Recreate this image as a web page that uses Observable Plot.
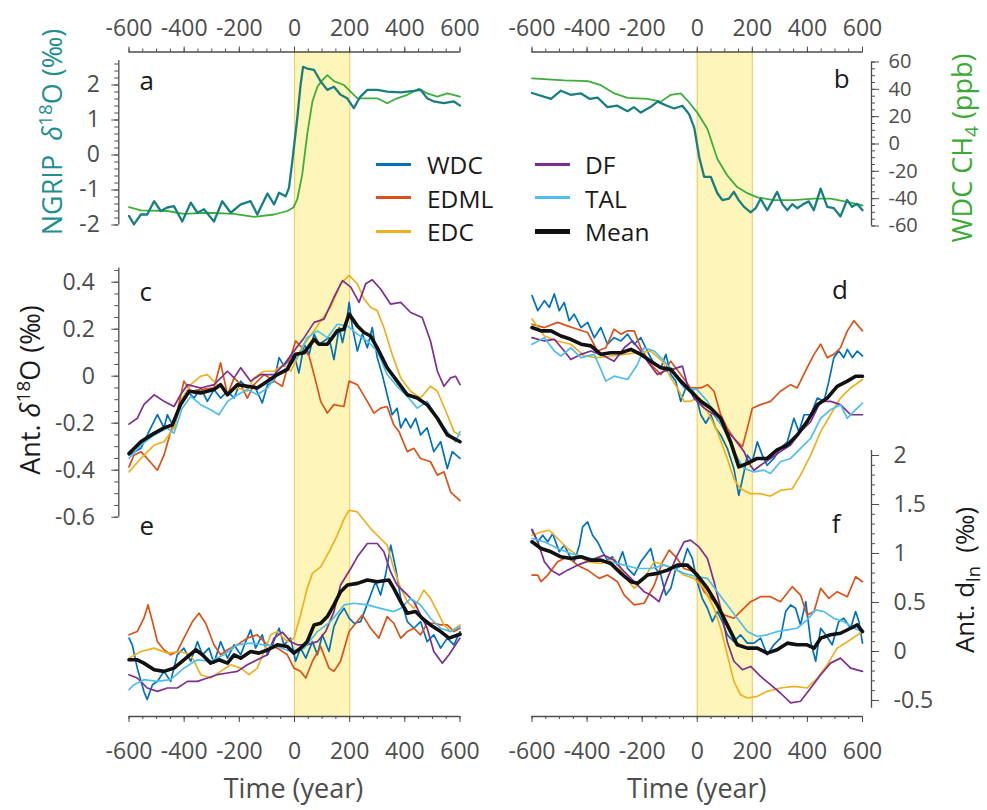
<!DOCTYPE html>
<html><head><meta charset="utf-8">
<script src="https://cdn.jsdelivr.net/npm/d3@7"></script>
<script src="https://cdn.jsdelivr.net/npm/@observablehq/plot@0.6"></script>
<style>
body{margin:0;background:#fff;}
#fig{position:relative;width:987px;height:810px;font-family:"Open Sans",sans-serif;overflow:hidden;background:#fff;}
#fig svg{position:absolute;left:0;top:0;overflow:visible;}
.lbl{position:absolute;white-space:nowrap;line-height:1;transform:translate(-50%,-50%);color:#1a1a1a;}
.vt{position:absolute;white-space:nowrap;line-height:1;transform:translate(-50%,-50%) rotate(-90deg);font-size:27px;}
.sw{position:absolute;}
.lt{position:absolute;font-size:24.5px;line-height:1;transform:translateY(-50%);color:#1a1a1a;}
sup,sub{font-size:70%;line-height:0;}
</style></head><body><div id="fig"></div>
<script>
// ---------- data ----------
const years = {majorTicks: [-600,-400,-200,0,200,400,600], minorStep: 50};
const band = [{start: 0, end: 200}];
const seriesNames = ["WDC","EDML","EDC","DF","TAL","Mean"];
const seriesColors = ["#0072BD","#D95319","#EDB120","#7E2F8E","#4DBEEE","#111111"];

// panel a (NGRIP d18O and WDC CH4 as drawn)
const aNGRIP = [[-600,-1.74],[-582,-1.98],[-557,-1.7],[-534,-1.7],[-509,-1.32],[-485,-1.6],[-461,-1.5],[-437,-1.46],[-407,-1.9],[-376,-1.36],[-352,-1.65],[-328,-1.55],[-292,-1.9],[-262,-1.32],[-231,-1.65],[-195,-1.41],[-159,-1.32],[-135,-1.7],[-98,-1.1],[-74,-1.41],[-56,-1.08],[-32,-1.18],[-20,-0.94],[-8,-0.18],[10,1.05],[22,2.0],[31,2.52],[46,2.47],[71,2.43],[95,2.1],[119,1.86],[143,1.95],[167,1.72],[191,1.62],[215,1.34],[239,1.67],[264,1.86],[300,1.86],[336,1.81],[385,1.79],[433,1.83],[457,1.86],[481,1.62],[505,1.53],[541,1.48],[578,1.53],[600,1.41]];
const aCH4 = [[-600,-1.49],[-557,-1.58],[-461,-1.6],[-401,-1.68],[-316,-1.65],[-219,-1.68],[-147,-1.77],[-74,-1.7],[-26,-1.6],[-4,-1.5],[10,-1.27],[28,-0.56],[46,0.58],[65,1.53],[83,1.95],[101,2.14],[119,2.28],[143,2.11],[179,2.0],[203,1.81],[228,1.62],[264,1.62],[300,1.62],[336,1.48],[372,1.62],[409,1.72],[451,1.89],[481,1.76],[518,1.67],[554,1.76],[600,1.67]];
// panel b
const bNGRIP = [[-600,37.3],[-531,33],[-495,39],[-460,36],[-422,37],[-390,33],[-362,34],[-326,27],[-290,28],[-253,24],[-230,27],[-205,23],[-170,27],[-144,31],[-110,28],[-84,26],[-54,28],[-30,22],[-11,12],[7,-9.5],[25,-24],[49,-24],[73,-36],[91,-41],[115,-40],[133,-35],[150,-41],[170,-46],[194,-50],[212,-47],[230,-40],[254,-48.5],[272,-42],[290,-35],[309,-44],[327,-48.5],[345,-44],[363,-47],[385,-44],[405,-42],[423,-48.5],[448,-32.7],[472,-46],[496,-47],[520,-53],[544,-41],[562,-46],[580,-43.7],[600,-48.5]];
const bCH4 = [[-600,48],[-483,46.6],[-398,46],[-350,43],[-301,37],[-253,33.7],[-180,33],[-132,31],[-96,36],[-60,37],[-36,32],[0,23],[37,11],[73,-11],[109,-23],[145,-31.5],[182,-36],[218,-39],[278,-41],[351,-41],[423,-40],[484,-40],[544,-42.4],[600,-45]];

// panel c (Ant. d18O)
const cWDC = [[-600,-0.336],[-557,-0.307],[-521,-0.22],[-497,-0.164],[-473,-0.22],[-461,-0.164],[-437,-0.22],[-413,-0.107],[-388,-0.064],[-364,-0.093],[-340,-0.05],[-316,-0.107],[-292,-0.057],[-268,-0.093],[-243,-0.064],[-219,-0.093],[-195,-0.021],[-171,-0.05],[-147,-0.036],[-117,-0.114],[-98,-0.036],[-74,-0.021],[-56,0.079],[-38,0.043],[-20,0.071],[-2,0.093],[16,0.014],[35,0.136],[53,0.093],[71,0.179],[89,0.136],[107,0.15],[125,0.164],[143,0.071],[162,0.207],[174,0.143],[186,0.207],[198,0.314],[210,0.207],[228,0.107],[246,0.179],[264,0.121],[282,0.207],[300,0.079],[318,0.007],[336,-0.079],[354,-0.164],[372,-0.136],[385,-0.22],[403,-0.179],[421,-0.22],[439,-0.179],[457,-0.25],[481,-0.22],[505,-0.321],[530,-0.279],[554,-0.393],[572,-0.321],[600,-0.35]];
const cEDML = [[-600,-0.386],[-582,-0.336],[-557,-0.321],[-534,-0.35],[-497,-0.4],[-473,-0.336],[-449,-0.236],[-425,-0.15],[-401,-0.021],[-376,-0.064],[-340,-0.057],[-292,-0.05],[-268,0.057],[-243,-0.079],[-219,-0.007],[-195,-0.036],[-171,-0.093],[-147,-0.036],[-110,0.007],[-74,-0.021],[-44,-0.043],[-26,0.036],[4,0.15],[28,0.121],[53,0.086],[77,-0.021],[95,-0.107],[119,-0.157],[143,-0.121],[179,-0.129],[198,-0.021],[228,-0.036],[264,-0.107],[288,-0.157],[312,-0.136],[336,-0.129],[360,-0.207],[379,-0.236],[409,-0.321],[433,-0.307],[457,-0.35],[493,-0.364],[518,-0.421],[542,-0.407],[566,-0.493],[600,-0.529]];
const cEDC = [[-600,-0.407],[-557,-0.35],[-509,-0.293],[-473,-0.279],[-437,-0.22],[-407,-0.093],[-376,-0.036],[-340,0],[-316,0.007],[-280,-0.036],[-243,-0.064],[-207,-0.05],[-171,-0.064],[-147,-0.007],[-110,0.021],[-74,0.021],[-38,0.05],[-14,0.021],[10,0.079],[35,0.136],[71,0.193],[95,0.236],[131,0.293],[167,0.393],[198,0.429],[228,0.393],[252,0.329],[276,0.293],[300,0.279],[324,0.207],[354,0.093],[385,-0.007],[421,-0.064],[457,-0.093],[493,-0.043],[518,-0.064],[554,-0.164],[578,-0.236],[600,-0.25]];
const cDF = [[-600,-0.204],[-570,-0.179],[-546,-0.121],[-509,-0.079],[-473,-0.107],[-437,-0.129],[-413,-0.079],[-388,-0.036],[-340,-0.05],[-292,-0.036],[-243,0.021],[-219,-0.007],[-195,0.036],[-159,-0.021],[-123,0.007],[-74,0.007],[-38,0.05],[-2,0.107],[35,0.164],[71,0.229],[107,0.243],[143,0.336],[174,0.407],[204,0.379],[234,0.314],[258,0.393],[282,0.41],[312,0.371],[348,0.307],[385,0.314],[421,0.271],[463,0.25],[493,0.15],[518,0.021],[542,-0.043],[566,-0.007],[584,0],[600,-0.036]];
const cTAL = [[-600,-0.35],[-557,-0.293],[-509,-0.25],[-461,-0.22],[-437,-0.243],[-407,-0.136],[-376,-0.086],[-340,-0.121],[-304,-0.143],[-274,-0.164],[-243,-0.107],[-207,-0.079],[-171,-0.057],[-135,-0.079],[-98,-0.05],[-62,0.007],[-26,0.036],[10,0.079],[46,0.164],[83,0.193],[119,0.164],[155,0.221],[192,0.214],[228,0.179],[264,0.15],[300,0.107],[336,0.007],[372,-0.043],[409,-0.086],[445,-0.136],[481,-0.107],[518,-0.179],[554,-0.236],[584,-0.279],[600,-0.236]];
const cMean = [[-600,-0.329],[-557,-0.279],[-509,-0.243],[-473,-0.22],[-443,-0.207],[-413,-0.121],[-382,-0.064],[-340,-0.071],[-292,-0.057],[-268,-0.036],[-243,-0.079],[-207,-0.036],[-171,-0.043],[-135,-0.05],[-98,-0.021],[-62,0.007],[-26,0.029],[4,0.093],[35,0.1],[71,0.157],[89,0.136],[119,0.136],[155,0.193],[179,0.2],[198,0.264],[228,0.214],[252,0.186],[276,0.171],[300,0.121],[336,0.036],[372,-0.021],[409,-0.079],[445,-0.093],[481,-0.121],[518,-0.179],[554,-0.25],[600,-0.279]];

// panel d (Ant. d18O)
const dWDC = [[-600,0.343],[-579,0.279],[-555,0.321],[-537,0.293],[-519,0.35],[-501,0.279],[-483,0.314],[-465,0.236],[-447,0.264],[-422,0.207],[-398,0.229],[-374,0.164],[-350,0.207],[-326,0.136],[-302,0.164],[-277,0.15],[-253,0.179],[-229,0.136],[-205,0.164],[-181,0.107],[-156,0.05],[-132,0.036],[-114,0.093],[-96,0.007],[-78,-0.021],[-60,-0.107],[-42,-0.05],[-24,-0.05],[-6,-0.079],[13,-0.164],[31,-0.2],[49,-0.164],[67,-0.221],[85,-0.25],[109,-0.307],[133,-0.393],[151,-0.507],[170,-0.407],[182,-0.336],[200,-0.364],[218,-0.279],[236,-0.336],[254,-0.379],[278,-0.35],[302,-0.307],[327,-0.279],[351,-0.179],[369,-0.236],[388,-0.164],[412,-0.164],[436,-0.093],[460,-0.107],[478,-0.021],[496,0.079],[514,0.107],[532,0.079],[545,0.114],[563,0.079],[581,0.107],[600,0.086]];
const dEDML = [[-600,0.221],[-555,0.207],[-507,0.229],[-471,0.214],[-435,0.2],[-398,0.186],[-362,0.107],[-332,0.121],[-302,0.2],[-277,0.179],[-253,0.193],[-229,0.193],[-205,0.121],[-169,0.05],[-132,0.007],[-96,0.064],[-60,0.007],[-24,-0.05],[13,-0.05],[37,-0.036],[61,-0.064],[85,-0.164],[109,-0.221],[133,-0.264],[164,-0.3],[182,-0.221],[200,-0.136],[230,-0.121],[266,-0.107],[302,-0.064],[339,-0.036],[363,-0.05],[399,0.036],[424,0.093],[448,0.136],[472,0.079],[496,0.093],[520,0.121],[545,0.193],[569,0.236],[600,0.193]];
const dEDC = [[-600,0.243],[-555,0.171],[-507,0.15],[-459,0.136],[-410,0.086],[-362,0.079],[-314,0.086],[-265,0.093],[-217,0.1],[-169,0.107],[-127,0.064],[-96,-0.007],[-72,-0.05],[-48,-0.107],[-24,-0.107],[0,-0.093],[37,-0.15],[73,-0.236],[109,-0.35],[133,-0.436],[157,-0.479],[194,-0.5],[230,-0.5],[266,-0.51],[302,-0.486],[345,-0.479],[375,-0.421],[412,-0.336],[448,-0.236],[484,-0.164],[520,-0.093],[557,-0.05],[600,-0.014]];
const dDF = [[-600,0.164],[-555,0.15],[-519,0.157],[-483,0.107],[-459,0.071],[-422,0.093],[-386,0.107],[-338,0.086],[-302,0.064],[-265,0.121],[-235,0.15],[-205,0.107],[-181,0.064],[-145,0.007],[-120,0.021],[-90,0.029],[-54,0.043],[-36,-0.036],[-12,-0.093],[25,-0.136],[61,-0.164],[97,-0.221],[133,-0.264],[170,-0.321],[188,-0.371],[206,-0.4],[230,-0.379],[266,-0.35],[302,-0.321],[339,-0.293],[375,-0.236],[412,-0.193],[448,-0.107],[484,-0.107],[520,-0.121],[557,-0.164],[600,-0.164]];
const dTAL = [[-600,0.136],[-555,0.164],[-519,0.107],[-495,0.086],[-459,0.121],[-422,0.079],[-374,0.093],[-350,0.029],[-332,-0.021],[-302,0],[-253,-0.014],[-217,0.05],[-193,0.121],[-156,0.107],[-120,0.064],[-84,0.007],[-48,-0.05],[0,-0.057],[37,-0.107],[73,-0.179],[109,-0.25],[133,-0.321],[170,-0.393],[206,-0.407],[242,-0.4],[266,-0.414],[302,-0.364],[339,-0.35],[375,-0.307],[412,-0.264],[448,-0.179],[484,-0.143],[520,-0.121],[545,-0.179],[569,-0.15],[600,-0.114]];
const dMean = [[-600,0.207],[-567,0.193],[-531,0.193],[-495,0.171],[-459,0.157],[-422,0.136],[-386,0.129],[-350,0.093],[-314,0.1],[-277,0.1],[-241,0.114],[-205,0.093],[-169,0.064],[-132,0.036],[-96,0.029],[-60,-0.021],[-24,-0.064],[13,-0.107],[49,-0.136],[85,-0.179],[121,-0.279],[151,-0.386],[182,-0.371],[218,-0.35],[254,-0.35],[290,-0.314],[327,-0.293],[363,-0.25],[399,-0.193],[436,-0.121],[472,-0.093],[508,-0.043],[545,-0.021],[575,0],[600,0]];

// panel e (Ant. dln, drawn on panel f scale)
const eWDC = [[-600,0.136],[-588,0.068],[-570,-0.17],[-546,-0.407],[-534,-0.49],[-515,-0.34],[-497,-0.305],[-473,-0.203],[-449,-0.305],[-425,-0.034],[-401,0.034],[-376,-0.1],[-352,0.1],[-334,-0.034],[-310,0.034],[-292,-0.119],[-268,0.1],[-243,-0.068],[-219,0.068],[-195,-0.034],[-177,0.1],[-159,0.22],[-141,0.034],[-117,0.17],[-98,-0.034],[-80,0.068],[-56,0.237],[-38,0.068],[-14,0.136],[4,-0.1],[22,0.034],[41,-0.068],[65,0.1],[83,-0.034],[101,0.17],[125,0],[143,0.254],[162,0.373],[180,0.44],[198,0.34],[216,0.288],[240,0.305],[258,0.44],[276,0.576],[294,0.712],[312,0.576],[330,0.78],[349,1.085],[367,0.847],[385,0.542],[409,0.305],[433,0.237],[457,0.305],[481,0.1],[505,0.17],[530,0.034],[554,0.136],[578,0.068],[600,0.203]];
const eEDML = [[-600,0.17],[-570,0.203],[-546,0.34],[-531,0.475],[-515,0.305],[-497,0.1],[-473,0.017],[-449,-0.034],[-425,0],[-401,0.136],[-370,0.305],[-346,0.39],[-322,0.288],[-292,0.068],[-268,-0.034],[-243,0.017],[-207,0.068],[-171,0.136],[-135,0.17],[-98,0.068],[-62,0.034],[-26,-0.034],[-2,-0.17],[22,-0.203],[41,-0.271],[65,-0.1],[95,0.051],[125,-0.17],[143,-0.203],[167,-0.1],[198,0.203],[222,0.288],[246,0.373],[276,0.237],[306,0.136],[336,0.356],[360,0.288],[385,0.136],[409,0.203],[433,0.237],[457,0.17],[481,0.288],[505,0.288],[530,0.271],[554,0.271],[578,0.203],[600,0.237]];
const eEDC = [[-600,-0.068],[-557,0],[-509,0.034],[-461,-0.017],[-413,0],[-376,-0.034],[-340,-0.237],[-304,-0.271],[-268,-0.203],[-231,-0.136],[-195,-0.17],[-165,-0.237],[-135,-0.17],[-110,0],[-86,0.17],[-62,0.203],[-26,0.1],[-2,0.136],[22,0.373],[46,0.644],[65,0.797],[95,0.864],[125,1.017],[155,1.186],[180,1.356],[198,1.441],[228,1.424],[252,1.339],[276,1.254],[312,1.153],[336,1.085],[360,0.847],[385,0.644],[409,0.508],[433,0.44],[469,0.627],[493,0.542],[518,0.407],[542,0.271],[566,0.203],[600,0.271]];
const eDF = [[-600,-0.237],[-570,-0.271],[-534,-0.373],[-497,-0.407],[-461,-0.373],[-425,-0.373],[-388,-0.305],[-352,-0.305],[-316,-0.271],[-280,-0.237],[-243,-0.22],[-207,-0.203],[-171,-0.136],[-135,-0.085],[-98,-0.034],[-74,0.136],[-44,0.197],[-14,0.1],[10,0.068],[46,0.068],[83,0.1],[113,0.203],[143,0.407],[167,0.678],[204,0.847],[228,0.966],[264,1.102],[300,1.102],[324,1.017],[348,0.814],[372,0.678],[397,0.61],[433,0.508],[457,0.373],[481,0.237],[505,0],[536,-0.119],[560,-0.034],[600,0.136]];
const eTAL = [[-600,-0.39],[-582,-0.339],[-546,-0.288],[-497,-0.305],[-449,-0.288],[-401,-0.17],[-352,-0.085],[-304,-0.1],[-256,-0.034],[-207,0.068],[-159,0.085],[-110,0.068],[-62,0.051],[-14,0],[35,0.034],[83,0.203],[131,0.305],[180,0.475],[216,0.492],[264,0.475],[312,0.44],[360,0.407],[385,0.44],[421,0.542],[457,0.475],[493,0.339],[530,0.237],[566,0.203],[600,0.254]];
const eMean = [[-600,-0.085],[-570,-0.085],[-546,-0.119],[-509,-0.186],[-473,-0.203],[-437,-0.17],[-401,-0.085],[-358,0.017],[-334,-0.034],[-304,-0.119],[-274,-0.085],[-243,-0.119],[-219,-0.034],[-195,-0.068],[-159,0],[-129,-0.017],[-98,0.017],[-62,0.068],[-26,0.051],[-2,-0.017],[22,0.034],[46,0.1],[71,0.271],[95,0.288],[119,0.356],[143,0.475],[167,0.61],[192,0.678],[228,0.695],[264,0.729],[300,0.712],[342,0.729],[360,0.644],[385,0.508],[409,0.39],[439,0.407],[463,0.339],[493,0.271],[530,0.203],[560,0.136],[600,0.176]];

// panel f (Ant. dln)
const fWDC = [[-600,1.237],[-579,1.119],[-561,1.186],[-543,1.119],[-525,1.203],[-501,1.017],[-483,1.085],[-465,0.983],[-447,0.915],[-428,1.085],[-416,1.271],[-398,1.322],[-380,1.186],[-362,1.119],[-344,1.017],[-326,0.932],[-308,0.966],[-290,0.881],[-271,1.017],[-253,0.847],[-229,0.78],[-205,0.915],[-187,0.983],[-169,1.051],[-151,0.847],[-132,0.78],[-114,0.576],[-96,0.644],[-78,0.847],[-54,0.881],[-36,1.051],[-18,0.949],[0,0.712],[18,0.542],[37,0.441],[55,0.305],[73,0.407],[91,0.305],[109,0.17],[133,0.1],[157,0.17],[182,0.085],[206,0.085],[230,0.136],[254,-0.034],[278,0.068],[302,0.136],[321,0.407],[339,0.475],[357,0.441],[375,0.271],[394,0.508],[412,0.1],[430,-0.1],[448,0.237],[466,0.17],[490,0.068],[514,0.305],[532,0.339],[557,0.237],[575,0.407],[587,0.305],[600,0.085]];
const fEDML = [[-600,0.78],[-579,0.78],[-567,0.712],[-543,0.78],[-507,0.915],[-471,0.966],[-435,0.881],[-398,0.83],[-356,0.746],[-326,0.78],[-290,0.712],[-265,0.576],[-229,0.475],[-193,0.492],[-156,0.678],[-126,0.915],[-102,1.034],[-78,0.966],[-48,0.847],[-12,0.814],[25,0.61],[61,0.508],[97,0.373],[133,0.339],[157,0.407],[194,0.508],[230,0.559],[266,0.559],[302,0.508],[345,0.661],[375,0.576],[399,0.373],[424,0.407],[448,0.644],[478,0.542],[508,0.61],[545,0.559],[575,0.763],[600,0.712]];
const fEDC = [[-600,1.186],[-567,1.22],[-537,1.237],[-507,1.153],[-471,1.051],[-435,0.983],[-398,0.915],[-350,0.898],[-302,0.949],[-265,0.78],[-229,0.644],[-193,0.746],[-156,0.915],[-120,0.881],[-84,0.847],[-48,0.78],[-12,0.746],[25,0.644],[61,0.441],[85,0.237],[109,-0.034],[133,-0.305],[157,-0.441],[182,-0.475],[218,-0.458],[254,-0.407],[302,-0.373],[351,-0.356],[399,-0.373],[436,-0.271],[472,-0.136],[508,0.034],[545,0.1],[600,0.203]];
const fDF = [[-600,1.247],[-579,1.119],[-555,0.915],[-531,0.83],[-501,0.78],[-471,0.83],[-435,0.881],[-386,0.932],[-338,0.983],[-302,0.932],[-265,0.814],[-229,0.712],[-193,0.61],[-169,0.576],[-139,0.508],[-108,0.746],[-78,0.949],[-48,1.119],[-24,1.136],[6,1.068],[37,0.949],[61,0.712],[85,0.441],[109,0.1],[133,-0.1],[164,-0.186],[194,-0.153],[230,-0.254],[266,-0.339],[302,-0.424],[339,-0.525],[375,-0.508],[412,-0.373],[448,-0.237],[484,-0.119],[520,-0.068],[557,-0.17],[600,-0.203]];
const fTAL = [[-600,1.153],[-555,1.119],[-507,1.051],[-459,1.0],[-410,0.966],[-362,0.932],[-314,0.915],[-265,0.881],[-217,0.847],[-169,0.847],[-120,0.881],[-84,0.847],[-48,0.797],[0,0.763],[37,0.746],[73,0.61],[109,0.475],[145,0.339],[182,0.203],[218,0.153],[254,0.17],[290,0.203],[327,0.22],[363,0.237],[399,0.322],[430,0.424],[460,0.407],[496,0.339],[532,0.305],[569,0.237],[600,0.203]];
const fMean = [[-600,1.119],[-567,1.051],[-531,1.017],[-495,0.966],[-459,0.949],[-422,0.966],[-386,0.932],[-350,0.932],[-314,0.898],[-277,0.797],[-241,0.712],[-217,0.695],[-181,0.78],[-145,0.797],[-108,0.83],[-72,0.881],[-36,0.881],[0,0.78],[37,0.644],[73,0.475],[109,0.271],[145,0.068],[182,0.034],[218,0.034],[254,-0.017],[290,0.017],[327,0.085],[363,0.068],[399,0.068],[424,0.034],[448,0.136],[484,0.17],[520,0.186],[557,0.237],[581,0.271],[600,0.203]];

// axis tick values
const ticksA = {major: [-2,-1,0,1,2], minorStep: 0.2, minorFrom: -2, minorTo: 2.6};
const ticksB = {major: [-60,-40,-20,0,20,40,60], minorStep: 5, minorFrom: -60, minorTo: 60};
const ticksC = {major: [-0.6,-0.4,-0.2,0,0.2,0.4], minorStep: 0.05, minorFrom: -0.6, minorTo: 0.45};
const ticksF = {major: [-0.5,0,0.5,1,1.5,2], minorStep: 0.1, minorFrom: -0.5, minorTo: 2.0};

// ---------- layout ----------
const W = 987, H = 810;
const cols = {L: {left: 128.5, right: 459.5}, R: {left: 531.5, right: 862}};
const rows = {
  a: {domain: [-2, 2.7], top: 60, bottom: 224.5},
  b: {domain: [-60, 60], top: 61.5, bottom: 225.5},
  cd: {domain: [-0.6, 0.46], top: 267.6, bottom: 516.7},
  ef: {domain: [-0.58, 2.05], top: 450.1, bottom: 707.8}
};
const AX = "#4d4d4d";
const FONT = "'Open Sans', sans-serif";
const fig = document.getElementById("fig");
const fmt = d => String(+(+d).toFixed(2));
const rng = (a, b, s) => d3.range(Math.round((b - a) / s) + 1).map(i => +(a + i * s).toFixed(4));
const baseStyle = {background: "transparent", overflow: "visible", fontFamily: FONT, color: AX};

function add(p) { fig.appendChild(p); }

function base(col) {
  const c = cols[col];
  const minor = rng(-600, 600, years.minorStep);
  const top = 51.5, bot = 716, k = 3 / (bot - top);
  add(Plot.plot({
    width: W, height: H, marginLeft: c.left, marginRight: W - c.right,
    marginTop: top, marginBottom: H - bot,
    x: {domain: [-600, 600]}, y: {domain: [0, 1], axis: null},
    style: baseStyle,
    marks: [
      Plot.rect(band, {x1: "start", x2: "end", fill: "#fdf5b9"}),
      Plot.ruleX(band.flatMap(b => [b.start, b.end]), {stroke: "#f4cf6a", strokeWidth: 1.2}),
      Plot.ruleY([0, 1], {stroke: AX, strokeWidth: 1.3}),
      Plot.ruleX(minor, {y1: 1, y2: 1 + k, stroke: AX}),
      Plot.ruleX(minor, {y1: 0, y2: -k, stroke: AX}),
      Plot.axisX({anchor: "top", ticks: years.majorTicks, tickSize: 6, tickPadding: 10, tickFormat: fmt, fontSize: 23, color: AX}),
      Plot.axisX({anchor: "bottom", ticks: years.majorTicks, tickSize: 6, tickPadding: 20, tickFormat: fmt, fontSize: 23, color: AX})
    ]
  }));
}

function panel(col, row, series) {
  const c = cols[col], r = rows[row];
  add(Plot.plot({
    width: W, height: H, marginLeft: c.left, marginRight: W - c.right,
    marginTop: r.top, marginBottom: H - r.bottom,
    x: {domain: [-600, 600], axis: null}, y: {domain: r.domain, axis: null},
    style: baseStyle,
    marks: series.map(s => Plot.line(s.data, {x: d => d[0], y: d => d[1], stroke: s.color, strokeWidth: s.width, strokeLinejoin: "round"}))
  }));
}

function yAxis(side, xpos, row, t, pad, fs) {
  const r = rows[row];
  const minor = rng(t.minorFrom, t.minorTo, t.minorStep);
  const left = side === "left";
  add(Plot.plot({
    width: W, height: H,
    marginLeft: left ? xpos : xpos - 100, marginRight: left ? W - xpos - 100 : W - xpos,
    marginTop: r.top, marginBottom: H - r.bottom,
    x: {domain: [0, 1], axis: null}, y: {domain: r.domain},
    style: baseStyle,
    marks: [
      Plot.ruleX([left ? 0 : 1], {stroke: AX, strokeWidth: 1.3}),
      Plot.ruleY(minor, left ? {x1: -0.04, x2: 0, stroke: AX} : {x1: 1, x2: 1.04, stroke: AX}),
      Plot.axisY({anchor: side, ticks: t.major, tickSize: 7, tickPadding: pad, tickFormat: fmt, fontSize: fs, color: AX})
    ]
  }));
}

const col = Object.fromEntries(seriesNames.map((n, i) => [n, seriesColors[i]]));
const TEAL = "#177f80", GREEN = "#3cae3a";
function six(arrs) {
  return seriesNames.map((n, i) => ({data: arrs[i], color: col[n], width: n === "Mean" ? 3.6 : 1.7}));
}

base("L"); base("R");
panel("L", "a", [{data: aCH4, color: GREEN, width: 1.8}, {data: aNGRIP, color: TEAL, width: 2.3}]);
panel("R", "b", [{data: bCH4, color: GREEN, width: 1.8}, {data: bNGRIP, color: TEAL, width: 2.3}]);
panel("L", "cd", six([cWDC, cEDML, cEDC, cDF, cTAL, cMean]));
panel("R", "cd", six([dWDC, dEDML, dEDC, dDF, dTAL, dMean]));
panel("L", "ef", six([eWDC, eEDML, eEDC, eDF, eTAL, eMean]));
panel("R", "ef", six([fWDC, fEDML, fEDC, fDF, fTAL, fMean]));
yAxis("left", 118.3, "a", ticksA, 12, 23);
yAxis("right", 871, "b", ticksB, 10, 20);
yAxis("left", 118.3, "cd", ticksC, 17, 23);
yAxis("right", 871, "ef", ticksF, 15, 23);

// ---------- text overlays ----------
function label(html, x, y, size, cls = "lbl", color) {
  const d = document.createElement("div");
  d.className = cls; d.innerHTML = html;
  d.style.left = x + "px"; d.style.top = y + "px";
  if (size) d.style.fontSize = size + "px";
  if (color) d.style.color = color;
  fig.appendChild(d);
}
const letters = [["a", 146.7, 80], ["b", 841.7, 78], ["c", 145.7, 291], ["d", 840, 289], ["e", 146.7, 525], ["f", 836, 523]];
letters.forEach(([t, x, y]) => label(t, x, y, 26));
label("Time (year)", 293.5, 787, 27, "lbl", "#4d4d4d");
label("Time (year)", 696.8, 787, 27, "lbl", "#4d4d4d");
label("NGRIP&nbsp;&nbsp;<i>δ</i><sup>18</sup>O (‰)", 51, 132, null, "vt", "#1f8f8f");
label("Ant. <i>δ</i><sup>18</sup>O (‰)", 29, 390, null, "vt", "#1a1a1a");
label("WDC CH<sub>4</sub> (ppb)", 961, 148, null, "vt", "#3aaa35");
label("Ant. d<sub>ln</sub>&nbsp;&nbsp;(‰)", 964, 580, 26, "vt", "#1a1a1a");

// legend
const legendPos = [[376, 427, 164], [376, 427, 197.5], [376, 427, 231], [535, 585, 164], [535, 585, 197.5], [535, 585, 231]];
seriesNames.forEach((n, i) => {
  const [sx, tx, y] = legendPos[i];
  const s = document.createElement("div");
  const h = n === "Mean" ? 5 : 3;
  s.className = "sw";
  s.style.cssText = `left:${sx}px;top:${y - h / 2}px;width:35px;height:${h}px;background:${seriesColors[i]}`;
  fig.appendChild(s);
  const t = document.createElement("div");
  t.className = "lt"; t.textContent = n;
  t.style.left = tx + "px"; t.style.top = (y + 1) + "px";
  fig.appendChild(t);
});
</script></body></html>
